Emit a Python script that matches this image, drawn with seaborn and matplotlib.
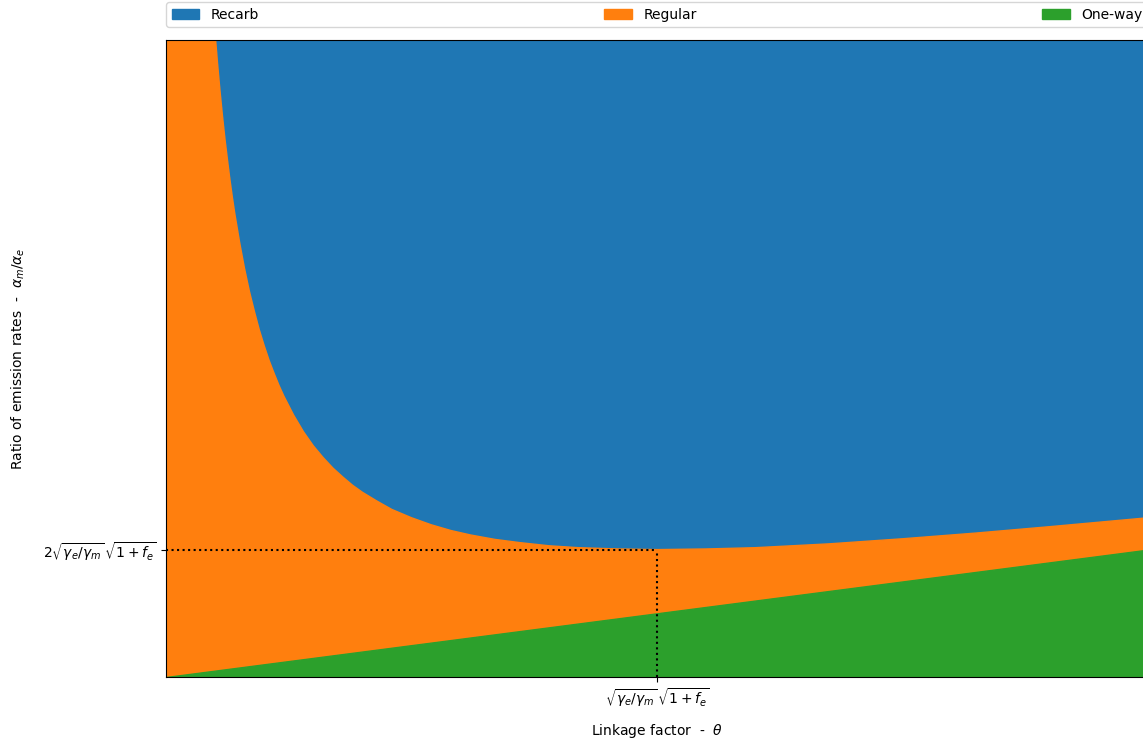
import numpy as np
import matplotlib
matplotlib.use('Agg')
import matplotlib.pyplot as plt
import seaborn as sns

# linkage factor (theta0 = 1 unit) and region boundaries
theta = [0.0, 0.09, 0.10, 0.105, 0.11, 0.115, 0.12, 0.125, 0.13, 0.135, 0.14,
         0.15, 0.16, 0.17, 0.18, 0.19, 0.20, 0.21, 0.22, 0.23, 0.24, 0.26,
         0.28, 0.30, 0.32, 0.34, 0.36, 0.38, 0.40, 0.43, 0.46, 0.50, 0.54,
         0.58, 0.62, 0.67, 0.72, 0.78, 0.84, 0.92, 1.0, 1.1, 1.2, 1.35, 1.5,
         1.65, 1.8, 2.0]
# top of the "Regular" region (bottom of "Recarb")
upper = [12.0, 11.2, 10.1, 9.63, 9.2, 8.81, 8.45, 8.13, 7.82, 7.54, 7.28,
         6.82, 6.41, 6.05, 5.74, 5.45, 5.20, 4.97, 4.77, 4.58, 4.41, 4.11,
         3.85, 3.63, 3.445, 3.28, 3.14, 3.01, 2.90, 2.76, 2.63, 2.50, 2.39,
         2.30, 2.23, 2.16, 2.11, 2.06, 2.03, 2.01, 2.0, 2.01, 2.03, 2.09, 2.17,
         2.26, 2.36, 2.5]
# top of the "One-way" region
lower = [0.0, 0.09, 0.10, 0.105, 0.11, 0.115, 0.12, 0.125, 0.13, 0.135, 0.14,
         0.15, 0.16, 0.17, 0.18, 0.19, 0.20, 0.21, 0.22, 0.23, 0.24, 0.26,
         0.28, 0.30, 0.32, 0.34, 0.36, 0.38, 0.40, 0.43, 0.46, 0.50, 0.54,
         0.58, 0.62, 0.67, 0.72, 0.78, 0.84, 0.92, 1.0, 1.1, 1.2, 1.35, 1.5,
         1.65, 1.8, 2.0]
y_top = 10.0
theta0 = 1.0
ratio0 = 2.0
names = ['Recarb', 'Regular', 'One-way']

pal = sns.color_palette('tab10')

fig = plt.figure(figsize=(11.43, 7.47), dpi=100)
# axes runs past the right edge like the cropped original
ax = fig.add_axes([166 / 1143, 70 / 747, 982 / 1143, 637 / 747])

ax.fill_between(theta, upper, y_top, color=pal[0], label=names[0])
ax.fill_between(theta, lower, upper, color=pal[1], label=names[1])
ax.fill_between(theta, 0, lower, color=pal[2], label=names[2])

# dotted guides to the minimum
ax.plot([0, theta0], [ratio0, ratio0], 'k:')
ax.plot([theta0, theta0], [0, ratio0], 'k:')

ax.set_xlim(0, 2)
ax.set_ylim(0, y_top)
ax.set_xticks([theta0])
ax.set_xticklabels([r'$\sqrt{\gamma_e/\gamma_m}\,\sqrt{1+f_e}$'])
ax.set_yticks([ratio0])
ax.set_yticklabels([r'$2\sqrt{\gamma_e/\gamma_m}\,\sqrt{1+f_e}$'])
ax.set_xlabel(r'Linkage factor  -  $\theta$', labelpad=9)
ax.set_ylabel(r'Ratio of emission rates  -  $\alpha_m/\alpha_e$', labelpad=11)

ax.legend(bbox_to_anchor=(0., 1.02, 1., .102), loc='lower left',
          ncol=3, mode='expand', borderaxespad=0.)

plt.savefig('out.png', dpi=100)
